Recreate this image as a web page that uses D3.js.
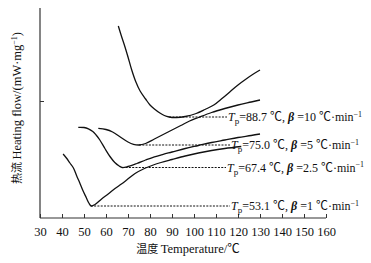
<!DOCTYPE html>
<html><head><meta charset="utf-8">
<script src="https://cdn.jsdelivr.net/npm/d3@7/dist/d3.min.js"></script>
<style>
html,body{margin:0;padding:0;background:#fff;}
svg text{font-family:"Liberation Serif","Times New Roman","Noto Sans CJK SC",serif;fill:#111;}
</style></head>
<body><svg id="c" width="371" height="263"></svg>
<script>
// Data (temperature in °C, heat flow in arbitrary units; larger = higher on chart)
const xTicks = [30,40,50,60,70,80,90,100,110,120,130,140,150,160];
const seriesNames = ["β=10","β=5","β=2.5","β=1"];
const peakTemps = [88.7, 75.0, 67.4, 53.1];
const rateLabels = ["10","5","2.5","1"];
const peakLabels = ["88.7","75.0","67.4","53.1"];

const temp10 = [65.6,67,68.6,70,71.7,73.5,75.5,78,80,82,84.5,86.5,88.7,92,96,101,105,109,113,116.5,120,124,127,130];
const flow10 = [192,182,171.3,161,148,136.5,127,119,113,109,105,102.5,101,100.5,101.5,104.5,108.5,113,120,126.5,133,139.5,144,148];

const temp5 = [56.5,60,63,66.5,70,72.5,75,78,82,86,90,94,98,102,108,114,120,126,130];
const flow5 = [89.7,88.5,86,81,76,73.7,73,74.5,79,83.5,88,92.5,97,100.5,105.5,109.5,113,116,118];

const temp25 = [47.4,50,52,54,55.5,57.2,59.5,61.8,64,66,67.4,70,74,78,82,86,90,96,102,108,114,120,126,130];
const flow25 = [90.7,90.5,89.2,86.5,83,78,69.5,61.5,55.5,52,50.5,51.5,54.5,58,61.2,63.7,66,69.5,72.5,75.5,78,80.5,82.5,84];

const temp1 = [40.5,42,43.6,45.2,46.7,48,49.5,51,52.2,53.3,55,58,61,64.1,67,69.4,73.2,77,81.5,85,90,96,102,108,114,121.5];
const flow1 = [64,60,55,50,42,35.5,27.5,20.5,15,12,13.5,19,24,29.5,34,38,44.5,49,53,55.5,58.5,62,65,67.5,69.5,71.5];

const temps = [temp10, temp5, temp25, temp1];
const flows = [flow10, flow5, flow25, flow1];
const peakFlows = [101, 73, 50.5, 12];

const svg = d3.select("#c");
const x = d3.scaleLinear().domain([30,160]).range([40,326]);
const y = d3.scaleLinear().domain([0,210]).range([218,8]);

// axes
const xAxis = d3.axisBottom(x).tickValues(xTicks).tickSize(-4).tickPadding(9).tickFormat(d3.format("d"));
const gx = svg.append("g").attr("transform","translate(0,218)").call(xAxis);
gx.select(".domain").attr("stroke","#333").attr("stroke-width",1.2).attr("d","M40,0H326");
gx.selectAll(".tick line").attr("stroke","#333");
gx.selectAll(".tick text").attr("font-size",12.5).attr("fill","#111")
  .style("font-family","Liberation Serif, serif");

const yAxis = d3.axisLeft(y).tickValues([117]).tickSize(-4).tickFormat("");
const gy = svg.append("g").attr("transform","translate(40,0)").call(yAxis);
gy.select(".domain").attr("stroke","#333").attr("stroke-width",1.2).attr("d","M0,8V218");
gy.selectAll(".tick line").attr("stroke","#333");

// axis titles
const xt = svg.append("text").attr("x",188).attr("y",253).attr("text-anchor","middle").attr("font-size",12.5);
xt.append("tspan").text("温度 ").style("font-family","Noto Sans CJK SC, sans-serif").attr("font-size",11);
xt.append("tspan").text("Temperature/℃");

const yt = svg.append("text").attr("transform","translate(21,108) rotate(-90)").attr("text-anchor","middle").attr("font-size",12.5);
yt.append("tspan").text("热流 ").style("font-family","Noto Sans CJK SC, sans-serif").attr("font-size",11);
yt.append("tspan").text("Heating flow/(mW·mg");
yt.append("tspan").text("−1").attr("font-size",8).attr("dy",-4.5);
yt.append("tspan").text(")").attr("dy",4.5);

// curves
const line = d3.line().x(d=>x(d[0])).y(d=>y(d[1])).curve(d3.curveCatmullRom.alpha(0.5));
temps.forEach((t,i)=>{
  const pts = t.map((v,j)=>[v, flows[i][j]]);
  svg.append("path").attr("d",line(pts)).attr("fill","none").attr("stroke","#111").attr("stroke-width",1.3);
});

// dashed peak lines and labels
const labelX = [228, 231, 227, 231];
peakTemps.forEach((p,i)=>{
  const yy = y(peakFlows[i]);
  svg.append("line").attr("x1",x(p)).attr("x2",labelX[i]-1).attr("y1",yy).attr("y2",yy)
    .attr("stroke","#111").attr("stroke-width",1).attr("stroke-dasharray","2,1.3");
  const t = svg.append("text").attr("x",labelX[i]).attr("y",yy+4).attr("font-size",12);
  t.append("tspan").text("T").attr("font-style","italic");
  t.append("tspan").text("p").attr("font-size",9).attr("dy",3);
  t.append("tspan").text("=" + peakLabels[i] + " ℃, ").attr("dy",-3);
  t.append("tspan").text("β").attr("font-style","italic").attr("font-weight","bold");
  t.append("tspan").text(" =" + rateLabels[i] + " ℃·min");
  t.append("tspan").text("−1").attr("font-size",8).attr("dy",-4.5);
});
</script></body></html>
